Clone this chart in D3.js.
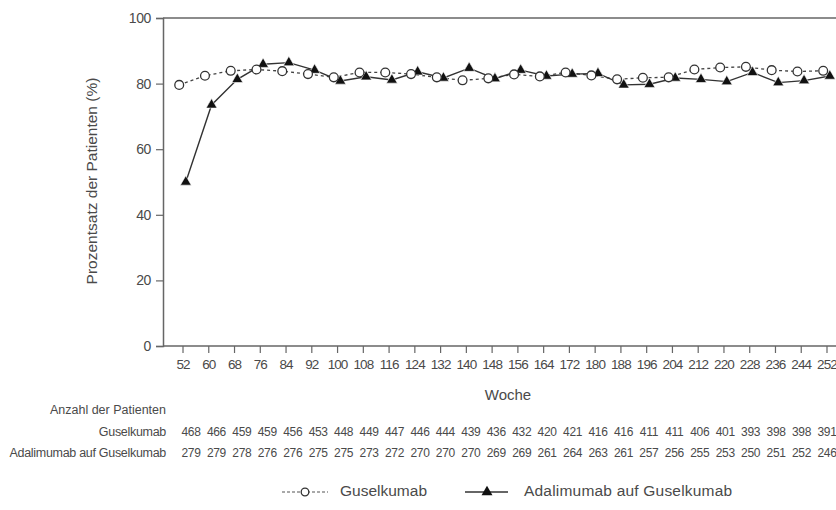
<!DOCTYPE html>
<html>
<head>
<meta charset="utf-8">
<script src="https://cdn.jsdelivr.net/npm/d3@7"></script>
<style>
  body { margin:0; background:#fff }
  svg text { font-family: "Liberation Sans", Arial, sans-serif; fill:#4a4a4a }
</style>
</head>
<body>
<div id="chart"></div>
<script>
var weeks = [52,60,68,76,84,92,100,108,116,124,132,140,148,156,164,172,180,188,196,204,212,220,228,236,244,252]
var guselkumab = [79.6,82.4,83.9,84.3,83.8,82.9,81.9,83.4,83.4,82.9,81.9,81.0,81.6,82.8,82.2,83.4,82.5,81.3,81.8,81.9,84.3,84.9,85.1,84.1,83.7,83.9]
var adaGusel   = [50.0,73.5,81.3,85.9,86.4,84.1,80.8,82.1,81.1,83.6,81.7,84.7,81.5,84.1,82.3,82.9,83.1,79.6,79.8,81.7,81.3,80.6,83.4,80.3,80.9,82.3]
var nGuselkumab = [468,466,459,459,456,453,448,449,447,446,444,439,436,432,420,421,416,416,411,411,406,401,393,398,398,391]
var nAdaGusel   = [279,279,278,276,276,275,275,273,272,270,270,270,269,269,261,264,263,261,257,256,255,253,250,251,252,246]
var yTicks = [0,20,40,60,80,100]

var W = 836, H = 510
var m = { top:18, left:163, bottom:346, right:836 }
var dodge = 3.3

var svg = d3.select('#chart').append('svg')
    .attr('width', W)
    .attr('height', H)

var x = d3.scaleLinear()
    .domain([52 - 19.5/3.2188, 252 + 9.5/3.2188])
    .range([m.left, m.right])
var y = d3.scaleLinear()
    .domain([0, 100])
    .range([m.bottom, m.top])
var xCount = d3.scaleLinear().domain([52, 252]).range([191, 827])

var axisColor = '#666'

// frame: top line + y axis
svg.append('line')
    .attr('x1', m.left).attr('x2', m.right)
    .attr('y1', y(100)).attr('y2', y(100))
    .attr('stroke', axisColor).attr('stroke-width', 1.5)

var yAxis = d3.axisLeft(y).tickValues(yTicks).tickSize(7).tickPadding(5)
var gy = svg.append('g')
    .attr('transform', 'translate(' + m.left + ',0)')
    .call(yAxis)
gy.select('.domain').attr('stroke', axisColor).attr('stroke-width', 1.5)
gy.selectAll('.tick line').attr('stroke', axisColor).attr('stroke-width', 1.2)
gy.selectAll('.tick text')
    .style('font-size', '14px')
    .style('letter-spacing', '-0.4px')
    .attr('fill', '#4f5060')

var xAxis = d3.axisBottom(x).tickValues(weeks).tickSize(7).tickPadding(6)
var gx = svg.append('g')
    .attr('transform', 'translate(0,' + m.bottom + ')')
    .call(xAxis)
gx.select('.domain').attr('stroke', axisColor).attr('stroke-width', 1.5)
    .attr('d', 'M' + m.left + ',0H' + m.right)
gx.selectAll('.tick line').attr('stroke', axisColor).attr('stroke-width', 1.2)
gx.selectAll('.tick text')
    .style('font-size', '13.5px')
    .style('letter-spacing', '-0.9px')
    .attr('fill', '#4a4a4a')

// axis titles
svg.append('text')
    .attr('transform', 'translate(93,' + 181 + ') rotate(-90)')
    .attr('text-anchor', 'middle')
    .attr('dominant-baseline', 'middle')
    .style('font-size', '15.5px')
    .text('Prozentsatz der Patienten (%)')

svg.append('text')
    .attr('x', 508).attr('y', 396)
    .attr('text-anchor', 'middle')
    .attr('dominant-baseline', 'middle')
    .style('font-size', '15px')
    .text('Woche')

// series
var gusData = weeks.map((w, i)=> ({ w:w, v:guselkumab[i] }))
var adaData = weeks.map((w, i)=> ({ w:w, v:adaGusel[i] }))

var lineGus = d3.line().x(d=> x(d.w) - dodge).y(d=> y(d.v))
var lineAda = d3.line().x(d=> x(d.w) + dodge).y(d=> y(d.v))

svg.append('path')
    .datum(gusData)
    .attr('d', lineGus)
    .attr('fill', 'none')
    .attr('stroke', '#444')
    .attr('stroke-width', 1.3)
    .attr('stroke-dasharray', '3 3')

svg.append('path')
    .datum(adaData)
    .attr('d', lineAda)
    .attr('fill', 'none')
    .attr('stroke', '#333')
    .attr('stroke-width', 1.4)

var tri = d3.symbol().type(d3.symbolTriangle).size(52)

svg.append('g').selectAll('path')
    .data(adaData)
    .join('path')
    .attr('d', tri)
    .attr('transform', d=> 'translate(' + (x(d.w) + dodge) + ',' + y(d.v) + ')')
    .attr('fill', '#111')
    .attr('stroke', '#fff')
    .attr('stroke-width', 0.6)

svg.append('g').selectAll('circle')
    .data(gusData)
    .join('circle')
    .attr('cx', d=> x(d.w) - dodge)
    .attr('cy', d=> y(d.v))
    .attr('r', 4.4)
    .attr('fill', '#fff')
    .attr('stroke', '#333')
    .attr('stroke-width', 1.3)

// patient counts table
var rows = [
    { label:'Guselkumab', vals:nGuselkumab, y:433 },
    { label:'Adalimumab auf Guselkumab', vals:nAdaGusel, y:454 }
]
svg.append('text')
    .attr('x', 166).attr('y', 411)
    .attr('text-anchor', 'end')
    .attr('dominant-baseline', 'middle')
    .style('font-size', '12.5px')
    .text('Anzahl der Patienten')

rows.forEach(r=> {
    svg.append('text')
        .attr('x', 166).attr('y', r.y)
        .attr('text-anchor', 'end')
        .attr('dominant-baseline', 'middle')
        .style('font-size', '12.5px')
        .style('letter-spacing', '-0.3px')
        .text(r.label)
    svg.append('g').selectAll('text')
        .data(r.vals)
        .join('text')
        .attr('x', (d, i)=> xCount(weeks[i]))
        .attr('y', r.y)
        .attr('text-anchor', 'middle')
        .attr('dominant-baseline', 'middle')
        .style('font-size', '12px')
        .style('letter-spacing', '-0.3px')
        .text(d=> d)
})

// legend
var lg = svg.append('g').attr('transform', 'translate(0,492)')
lg.append('line')
    .attr('x1', 282).attr('x2', 328)
    .attr('stroke', '#555').attr('stroke-width', 1.2)
    .attr('stroke-dasharray', '3 2')
lg.append('circle')
    .attr('cx', 305).attr('r', 3.8)
    .attr('fill', '#fff').attr('stroke', '#333').attr('stroke-width', 1.3)
lg.append('text')
    .attr('x', 340).attr('dominant-baseline', 'middle')
    .style('font-size', '15.5px')
    .text('Guselkumab')
lg.append('line')
    .attr('x1', 465).attr('x2', 508)
    .attr('stroke', '#333').attr('stroke-width', 1.4)
lg.append('path')
    .attr('d', tri)
    .attr('transform', 'translate(487,0)')
    .attr('fill', '#111')
lg.append('text')
    .attr('x', 524).attr('dominant-baseline', 'middle')
    .style('font-size', '15.5px')
    .style('letter-spacing', '0.2px')
    .text('Adalimumab auf Guselkumab')
</script>
</body>
</html>
